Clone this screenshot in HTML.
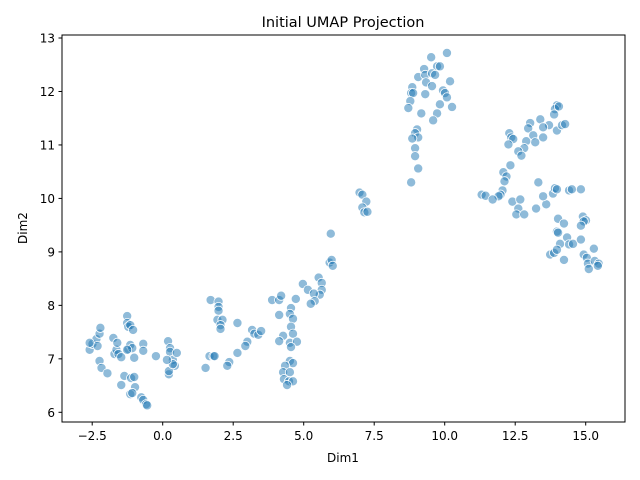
<!DOCTYPE html>
<html><head><meta charset="utf-8"><style>
body{margin:0;background:#fff;}
svg{display:block;font-family:"DejaVu Sans","Liberation Sans",sans-serif;}
</style></head><body>
<svg id="chart" width="640" height="480" viewBox="0 0 640 480">
<rect x="0" y="0" width="640" height="480" fill="#fff"/>
<text x="343" y="27" font-size="14.5" text-anchor="middle">Initial UMAP Projection</text>
<g id="points"></g>
<rect x="62" y="35" width="563" height="387" fill="none" stroke="#000" stroke-width="1"/>
<g id="xt"></g>
<g id="yt"></g>
<text x="343" y="462" font-size="12" text-anchor="middle">Dim1</text>
<text x="27" y="228" font-size="12" text-anchor="middle" transform="rotate(-90 27 228)">Dim2</text>
</svg>
<script>
const xTicks=[-2.5,0,2.5,5,7.5,10,12.5,15];
const xTickLabels=["\u22122.5","0.0","2.5","5.0","7.5","10.0","12.5","15.0"];
const yTicks=[6,7,8,9,10,11,12,13];
const yTickLabels=["6","7","8","9","10","11","12","13"];
const dim1=[-2.59,-2.49,-2.35,-2.24,-2.21,-2.31,-2.59,-2.24,-2.17,-1.96,-1.71,-1.64,-1.57,-1.75,-1.61,-1.26,-1.26,-1.22,-1.15,-1.05,-0.69,-0.69,-1.22,-1.15,-1.08,-1.47,-1.26,-1.01,-1.36,-1.47,-1.12,-1.01,-0.98,-1.15,-1.08,-0.76,-0.69,-0.59,-0.55,-0.24,0.19,0.26,0.26,0.36,0.43,0.22,0.22,0.36,0.50,0.15,
1.70,1.98,1.98,1.98,1.94,2.12,2.05,2.05,2.65,3.17,3.25,3.39,3.49,3.00,2.93,2.65,2.36,2.29,1.66,1.80,1.84,1.52,3.88,4.13,4.20,4.72,4.13,4.55,4.51,4.62,4.55,4.62,4.27,4.13,4.51,4.76,4.55,4.51,4.62,4.34,4.27,4.51,4.30,4.48,4.62,4.41,4.97,5.15,5.53,5.64,5.64,5.57,5.36,5.39,5.25,5.96,5.92,5.99,6.03,6.98,7.08,7.22,7.08,7.15,7.26,
9.52,10.08,9.27,9.73,9.83,9.06,9.31,9.55,9.66,9.34,9.55,10.19,9.94,10.01,10.08,8.85,8.81,8.88,8.78,8.71,9.31,9.83,10.26,9.73,9.59,9.17,9.02,8.95,9.06,8.85,8.95,8.95,9.06,8.81,
13.98,13.91,14.05,13.88,13.39,13.70,13.49,13.98,14.16,14.27,13.03,12.96,13.14,13.21,13.49,12.29,12.36,12.43,12.26,12.89,12.82,12.61,12.72,12.33,12.08,12.19,12.12,12.05,11.98,11.91,11.31,11.45,11.70,12.40,12.68,12.61,12.54,12.82,13.24,13.60,13.49,13.32,13.84,13.91,13.98,14.41,14.51,14.83,14.02,14.23,13.98,14.02,14.34,14.09,14.41,14.55,14.83,14.90,15.01,14.93,14.83,15.29,13.74,13.88,13.98,14.23,14.93,15.04,15.08,15.11,15.32,15.46,15.43];
const dim2=[7.17,7.28,7.37,7.47,7.58,7.24,7.30,6.96,6.83,6.73,7.09,7.17,7.09,7.39,7.30,7.80,7.67,7.60,7.63,7.54,7.28,7.15,7.18,7.26,7.20,7.03,7.17,7.02,6.68,6.51,6.64,6.66,6.47,6.34,6.36,6.28,6.23,6.15,6.13,7.05,7.33,7.20,7.13,6.98,6.87,6.71,6.77,6.90,7.11,6.98,
8.10,8.07,7.97,7.90,7.73,7.73,7.63,7.56,7.67,7.54,7.47,7.45,7.52,7.32,7.24,7.11,6.94,6.87,7.05,7.05,7.05,6.83,8.10,8.10,8.18,8.12,7.82,7.95,7.84,7.75,7.60,7.47,7.43,7.33,7.30,7.32,7.22,6.96,6.92,6.87,6.75,6.75,6.62,6.58,6.58,6.51,8.40,8.29,8.52,8.42,8.29,8.20,8.22,8.08,8.03,9.34,8.80,8.85,8.74,10.11,10.07,9.94,9.83,9.74,9.75,
12.64,12.72,12.42,12.47,12.47,12.27,12.31,12.34,12.31,12.17,12.10,12.19,12.02,11.97,11.89,12.08,11.97,11.97,11.82,11.69,11.95,11.76,11.71,11.59,11.46,11.59,11.29,11.22,11.14,11.12,10.94,10.79,10.56,10.30,
11.74,11.67,11.72,11.57,11.48,11.37,11.33,11.27,11.37,11.39,11.41,11.31,11.18,11.05,11.14,11.22,11.14,11.11,11.01,11.07,10.94,10.88,10.80,10.62,10.49,10.41,10.32,10.15,10.07,10.04,10.07,10.05,9.98,9.94,9.98,9.81,9.70,9.70,9.81,9.89,10.04,10.30,10.09,10.19,10.17,10.15,10.17,10.17,9.62,9.53,9.38,9.36,9.27,9.15,9.14,9.15,9.23,9.66,9.59,9.57,9.49,9.06,8.95,8.98,9.04,8.85,8.95,8.89,8.78,8.68,8.83,8.78,8.74];

const NS="http://www.w3.org/2000/svg";
function xs(v){return 162.7+28.2*v;}
function ys(v){return 412.3-53.47*(v-6);}
const pg=document.getElementById('points');
for(let i=0;i<dim1.length;i++){
  const c=document.createElementNS(NS,'circle');
  c.setAttribute('cx',xs(dim1[i]));c.setAttribute('cy',ys(dim2[i]));c.setAttribute('r',4.6);
  c.setAttribute('fill','rgba(31,119,180,0.5)');c.setAttribute('stroke','#ffffff');c.setAttribute('stroke-width','0.8');
  
  
  pg.appendChild(c);
}
const xg=document.getElementById('xt');
xTicks.forEach((t,i)=>{
  const x=xs(t);
  const l=document.createElementNS(NS,'line');
  l.setAttribute('x1',x);l.setAttribute('x2',x);l.setAttribute('y1',422);l.setAttribute('y2',425.5);l.setAttribute('stroke','#000');
  
  
  xg.appendChild(l);
  const tx=document.createElementNS(NS,'text');
  tx.setAttribute('x',x);tx.setAttribute('y',440);tx.setAttribute('font-size','12');tx.setAttribute('text-anchor','middle');
  tx.textContent=xTickLabels[i];
  
  
  xg.appendChild(tx);
});
const yg=document.getElementById('yt');
yTicks.forEach((t,i)=>{
  const y=ys(t);
  const l=document.createElementNS(NS,'line');
  l.setAttribute('x1',58.5);l.setAttribute('x2',62);l.setAttribute('y1',y);l.setAttribute('y2',y);l.setAttribute('stroke','#000');
  
  
  yg.appendChild(l);
  const tx=document.createElementNS(NS,'text');
  tx.setAttribute('x',55);tx.setAttribute('y',y+4.5);tx.setAttribute('font-size','12');tx.setAttribute('text-anchor','end');
  tx.textContent=yTickLabels[i];
  
  
  yg.appendChild(tx);
});
</script>
</body></html>
